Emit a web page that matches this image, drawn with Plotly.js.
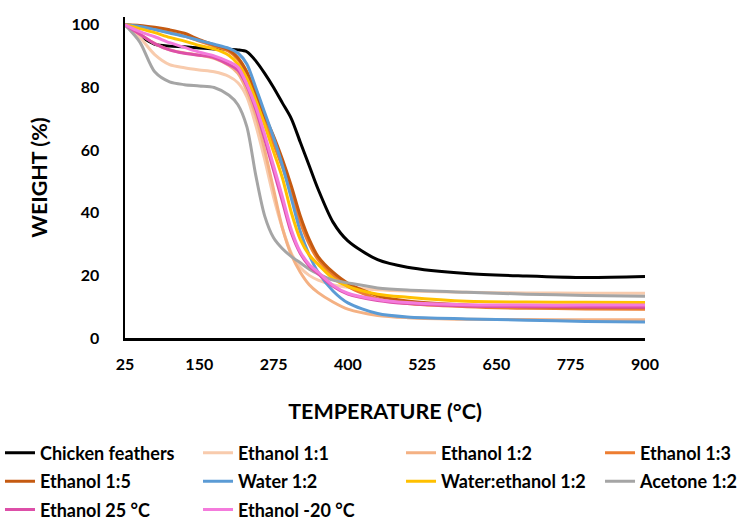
<!DOCTYPE html>
<html>
<head>
<meta charset="utf-8">
<script src="https://cdn.plot.ly/plotly-3.0.1.min.js"></script>
<style>html,body{margin:0;padding:0;background:#fff;}#chart{width:739px;height:521px;}</style>
</head>
<body>
<div id="chart"></div>
<script>
var temps = [25, 50, 75, 100, 125, 150, 175, 200, 215, 230, 245, 260, 275, 290, 305, 320, 335, 350, 375, 400, 450, 500, 600, 700, 800, 900];

var chickenFeathers = [100, 96.5, 93.8, 93.2, 93, 92.6, 92.3, 92.2, 92, 91.4, 88.5, 84.5, 80, 75, 70, 62.5, 55, 47.5, 37, 31, 25, 22.6, 20.6, 19.8, 19.3, 19.6];
var ethanol11 = [100, 96, 90.5, 87.3, 86.3, 85.6, 85, 83.5, 81.5, 77, 68, 57, 45, 35, 27, 22.5, 20, 18.5, 17, 16.2, 15.4, 15, 14.6, 14.4, 14.3, 14.3];
var ethanol12 = [100, 97, 94, 92, 91, 90.3, 89.3, 87, 84.5, 79, 71, 60, 47.5, 35, 26.5, 21, 17, 14.5, 11.5, 9.2, 7.2, 6.5, 6, 5.9, 5.8, 5.8];
var ethanol13 = [100, 99.5, 98.6, 97.6, 96.4, 94.8, 93.2, 91.5, 89, 84.5, 77, 69, 62, 54.5, 46, 37, 30, 25, 20, 16.5, 12.5, 11, 10, 9.5, 9.3, 9.2];
var ethanol15 = [100, 99.8, 99.2, 98.4, 97.3, 95.3, 93.6, 92, 89.5, 85, 78, 71, 64.5, 57, 48.5, 39, 31.5, 26, 21, 17.5, 13.5, 11.8, 10.5, 10, 9.8, 9.7];
var water12 = [100, 99.5, 98.5, 97.4, 96.3, 95, 93.8, 92.5, 91, 87.5, 80, 72, 64, 55, 44.5, 34, 26.5, 21, 15, 11.2, 7.8, 6.7, 6.1, 5.7, 5.3, 5.1];
var waterEthanol12 = [100, 98.8, 97.5, 96, 94.8, 93.4, 92.3, 90.2, 87.5, 83, 76, 68, 59.5, 51, 40, 31.5, 26.5, 23.5, 19, 16.5, 14, 13, 11.7, 11.5, 11.4, 11.3];
var acetone12 = [100, 94.5, 85, 81.8, 80.9, 80.5, 80, 77.5, 74.5, 67.5, 52, 39, 32, 28.5, 26, 24, 22, 20.5, 18.5, 17.6, 16, 15.3, 14.6, 14, 13.6, 13.3];
var ethanol25C = [100, 97, 94, 92, 90.9, 90.3, 89.5, 87.3, 85.5, 80.5, 73, 63.5, 53.5, 43.5, 33.5, 27, 23, 20.5, 16.5, 14, 12, 11, 10.2, 10, 9.9, 9.8];
var ethanolM20C = [100, 97.8, 96.2, 94.3, 92.8, 91.3, 90.1, 88.2, 86.5, 81, 74, 65, 55, 45, 34.5, 27.5, 23.5, 21, 16.8, 14.3, 12.3, 11.3, 10.6, 10.5, 10.5, 10.5];

var seriesNames = ["Chicken feathers", "Ethanol 1:1", "Ethanol 1:2", "Ethanol 1:3", "Ethanol 1:5", "Water 1:2", "Water:ethanol 1:2", "Acetone 1:2", "Ethanol 25 °C", "Ethanol -20 °C"];
var seriesValues = [chickenFeathers, ethanol11, ethanol12, ethanol13, ethanol15, water12, waterEthanol12, acetone12, ethanol25C, ethanolM20C];
var seriesColors = ["#000000", "#F8CBAD", "#F4B183", "#ED7D31", "#C55A11", "#5B9BD5", "#FFC000", "#A5A5A5", "#DD4FA8", "#F47BDC"];
// legend column for each series (4 columns, filled row by row)
var seriesLegend = ["legend", "legend2", "legend3", "legend4", "legend", "legend2", "legend3", "legend4", "legend", "legend2"];

var xTicks = [25, 150, 275, 400, 525, 650, 775, 900];
var yTicks = [0, 20, 40, 60, 80, 100];

var traces = seriesNames.map(function (name, i) {
  return {
    x: temps,
    y: seriesValues[i],
    name: name,
    legend: seriesLegend[i],
    legendgroup: name,
    type: "scatter",
    mode: "lines",
    line: { color: seriesColors[i], width: 3, shape: "spline", smoothing: 0.8 }
  };
});

var fontFam = "Lato, 'Open Sans', sans-serif";
var legendFont = { family: fontFam, size: 18, weight: "bold", color: "#000" };
function legendAt(xp) {
  return {
    orientation: "v",
    x: xp,
    xanchor: "left",
    y: -0.301,
    yanchor: "top",
    traceorder: "grouped",
    tracegroupgap: 2,
    font: legendFont,
    bgcolor: "rgba(0,0,0,0)",
    borderwidth: 0
  };
}

var layout = {
  width: 739,
  height: 521,
  margin: { l: 125, r: 94, t: 17, b: 183, autoexpand: false },
  paper_bgcolor: "#fff",
  plot_bgcolor: "#fff",
  font: { family: fontFam, color: "#000", size: 16, weight: "bold" },
  showlegend: true,
  xaxis: {
    range: [25, 900],
    tickvals: xTicks,
    ticktext: xTicks.map(String),
    showgrid: false,
    zeroline: false,
    showline: true,
    linecolor: "#000",
    linewidth: 2.5,
    ticks: "",
    ticklabelstandoff: 10,
    tickfont: { family: fontFam, size: 16, weight: "bold", color: "#000" },
    title: { text: "TEMPERATURE (°C)", font: { family: fontFam, size: 21.5, weight: "bold", color: "#000" }, standoff: 32 }
  },
  yaxis: {
    range: [0, 102.5],
    tickvals: yTicks,
    ticktext: yTicks.map(String),
    showgrid: false,
    zeroline: false,
    showline: true,
    linecolor: "#000",
    linewidth: 2.5,
    ticks: "",
    ticklabelstandoff: 20,
    tickfont: { family: fontFam, size: 16, weight: "bold", color: "#000" },
    title: { text: "WEIGHT (%)", font: { family: fontFam, size: 21.5, weight: "bold", color: "#000" }, standoff: 18 }
  },
  legend: legendAt(-0.2404),
  legend2: legendAt(0.1404),
  legend3: legendAt(0.5308),
  legend4: legendAt(0.9135)
};

Plotly.newPlot("chart", traces, layout, { displayModeBar: false, staticPlot: true });
</script>
</body>
</html>
